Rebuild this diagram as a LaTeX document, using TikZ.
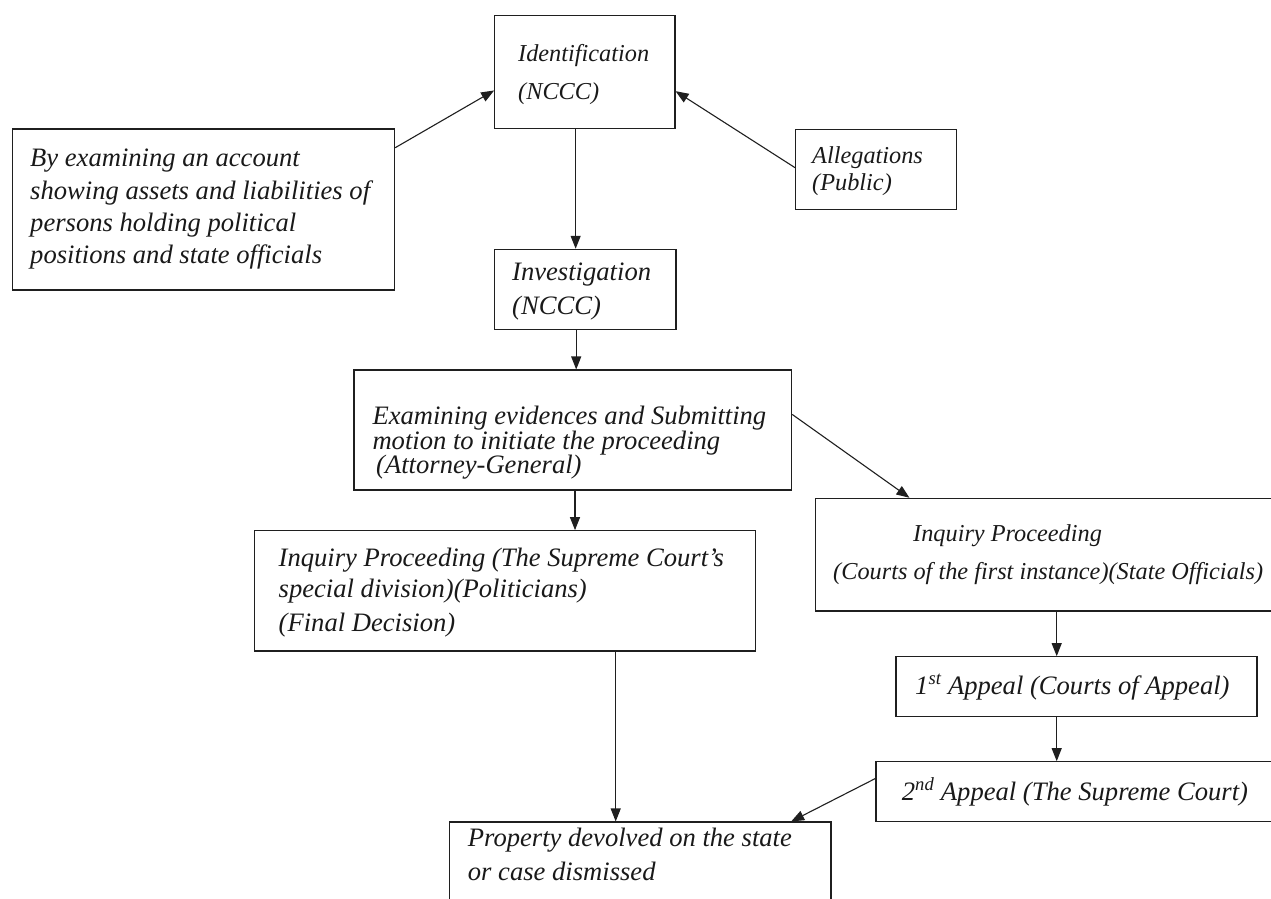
\documentclass[tikz,border=0pt]{standalone}
\usepackage{fontspec}
\setmainfont{Liberation Serif}[ItalicFont={Liberation Serif Italic}]
\usetikzlibrary{arrows.meta,calc}
\begin{document}
\begin{tikzpicture}[x=1pt,y=-1pt,
  box/.style={draw=black!88, line width=1.1pt, rectangle, inner sep=0pt},
  arr/.style={draw=black!88, line width=1.1pt, -{Triangle[length=13pt,width=10pt]}},
  big/.style={anchor=base west, inner sep=0pt, text=black!90, font=\fontsize{26.6}{30}\selectfont\itshape},
  sml/.style={anchor=base west, inner sep=0pt, text=black!90, font=\fontsize{24.3}{28}\selectfont\itshape}]
\useasboundingbox (0,0) rectangle (1271,898);
\clip (0,0) rectangle (1271,898);
% boxes
\node[box, minimum width=180.3pt, minimum height=113pt] (ident) at (584.85,72.2) {};
\node[box, minimum width=382.1pt, minimum height=161pt] (acct) at (203.55,209.5) {};
\node[box, minimum width=161pt, minimum height=80pt] (alleg) at (876.2,169.3) {};
\node[box, minimum width=181.3pt, minimum height=80pt] (invest) at (585.35,289.3) {};
\node[box, minimum width=437.7pt, minimum height=120pt] (exam) at (572.85,430) {};
\node[box, minimum width=500.9pt, minimum height=120.3pt] (inqL) at (505.05,590.85) {};
\node[box, minimum width=484.7pt, minimum height=112.7pt] (inqR) at (1057.65,554.65) {};
\node[box, minimum width=361pt, minimum height=60pt] (app1) at (1076.5,686.7) {};
\node[box, minimum width=424pt, minimum height=60pt] (app2) at (1088,791.7) {};
\node[box, minimum width=381.7pt, minimum height=108pt] (prop) at (640.15,876) {};
% texts
\node[sml] (t1a) at (518,61) {Identification};
\node[sml] (t1b) at (518,99.5) {(NCCC)};
\node[big] (t2a) at (30,166.7) {By examining an account};
\node[big] (t2b) at (30,199) {showing assets and liabilities of};
\node[big] (t2c) at (30,231.7) {persons holding political};
\node[big] (t2d) at (30,263) {positions and state officials};
\node[sml] (t3a) at (812,163.3) {Allegations};
\node[sml] (t3b) at (812,190.7) {(Public)};
\node[big] (t4a) at (512,280.7) {Investigation};
\node[big] (t4b) at (512,314) {(NCCC)};
\node[big] (t5a) at (372.3,424) {Examining evidences and Submitting};
\node[big] (t5b) at (372.3,449) {motion to initiate the proceeding};
\node[big] (t5c) at (376,473.3) {(Attorney-General)};
\node[big] (t6a) at (278.5,566) {Inquiry Proceeding (The Supreme Court’s};
\node[big] (t6b) at (278.5,597) {special division)(Politicians)};
\node[big] (t6c) at (278.5,631) {(Final Decision)};
\node[sml] (t7a) at (913,541.7) {Inquiry Proceeding};
\node[sml] (t7b) at (833,579) {(Courts of the first instance)(State Officials)};
\node[big] (t8) at (915,694) {1\textsuperscript{st} Appeal (Courts of Appeal)};
\node[big] (t9) at (901.7,800) {2\textsuperscript{nd} Appeal (The Supreme Court)};
\node[big] (t10a) at (467.7,846.7) {Property devolved on the state};
\node[big] (t10b) at (467.7,880) {or case dismissed};
% connectors
\draw[arr] ($(acct.north east)+(0,19.3)$) -- ($(ident.north west)+(0,75.3)$);
\draw[arr] ($(alleg.north west)+(0,39)$) -- ($(ident.north east)+(0,76)$);
\draw[arr] ($(ident.south)+(-9.2,0)$) -- ($(invest.north)+(-9.7,0)$);
\draw[arr] ($(invest.south)+(-9.15,0)$) -- ($(exam.north)+(3.35,0)$);
\draw[arr] ($(exam.south)+(2.15,0)$) -- ($(inqL.north)+(69.95,0)$);
\draw[arr] ($(exam.north east)+(0,45)$) -- ($(inqR.north west)+(94.7,0)$);
\draw[arr] ($(inqR.south)+(-0.95,0)$) -- ($(app1.north)+(-19.8,0)$);
\draw[arr] ($(app1.south)+(-19.8,0)$) -- ($(app2.north)+(-31.3,0)$);
\draw[arr] ($(app2.north west)+(0,17.3)$) -- ($(prop.north west)+(342.4,0)$);
\draw[arr] ($(inqL.south)+(110.65,0)$) -- ($(prop.north)+(-24.45,0)$);
\end{tikzpicture}
\end{document}
